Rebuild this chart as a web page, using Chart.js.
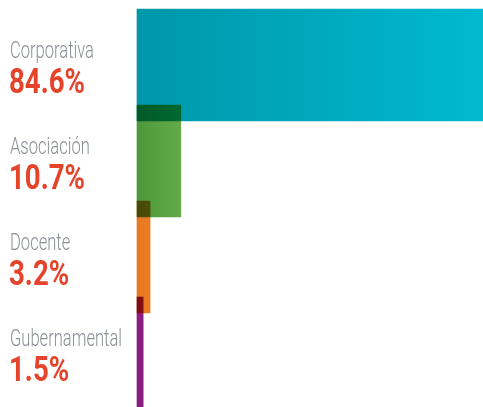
<!DOCTYPE html>
<html>
<head>
<meta charset="utf-8">
<script src="https://cdn.jsdelivr.net/npm/chart.js@4"></script>
<style>
    html, body { margin: 0; padding: 0; background: #fff; }
    #wrap { width: 483px; height: 407px; }
</style>
</head>
<body>
<div id="wrap"><canvas id="bar-chart"></canvas></div>
<script>
var categories = ['Corporativa', 'Asociación', 'Docente', 'Gubernamental'];
var shares = [84.6, 10.7, 3.2, 1.5];
var shareLabels = ['84.6%', '10.7%', '3.2%', '1.5%'];
// left / right colour of each bar's gradient
var colorsFrom = ['#0097a9', '#4c983a', '#e77a22', '#8b1d80'];
var colorsTo = ['#00b9d1', '#63ab48', '#e97d22', '#8b1d80'];

/*
*   bars overlap a little, the overlap darkens like ink
*/
var multiplyPlugin = {
    id: 'multiply',
    beforeDatasetsDraw: function(chart) {
        chart.ctx.save();
        chart.ctx.globalCompositeOperation = 'multiply';
    },
    afterDatasetsDraw: function(chart) {
        chart.ctx.restore();
    }
};

/*
*   category name + percentage on the left of each bar (squeezed to look condensed)
*/
var sideLabels = {
    id: 'sideLabels',
    afterDraw: function(chart) {
        var ctx = chart.ctx;
        var yScale = chart.scales.y;
        ctx.save();
        ctx.textAlign = 'left';
        ctx.textBaseline = 'alphabetic';
        for (var i = 0; i < categories.length; i++) {
            var cy = yScale.getPixelForValue(i);

            ctx.save();
            ctx.translate(10, cy - 7.5);
            ctx.scale(0.72, 1);
            ctx.font = '300 23px Roboto';
            ctx.fillStyle = '#8b9096';
            ctx.fillText(categories[i], 0, 0);
            ctx.restore();

            ctx.save();
            ctx.translate(9, cy + 28);
            ctx.scale(0.79, 1);
            ctx.font = 'bold 35px Roboto';
            ctx.fillStyle = '#e5442a';
            ctx.fillText(shareLabels[i], 0, 0);
            ctx.restore();
        }
        ctx.restore();
    }
};

function barGradient(context) {
    var chart = context.chart;
    var i = context.dataIndex;
    if (!chart.chartArea || i === undefined) {
        return colorsFrom[i || 0];
    }
    var x0 = chart.chartArea.left;
    var x1 = chart.scales.x.getPixelForValue(shares[i]);
    var g = chart.ctx.createLinearGradient(x0, 0, x1, 0);
    g.addColorStop(0, colorsFrom[i]);
    g.addColorStop(1, colorsTo[i]);
    return g;
}

var ctx = document.getElementById('bar-chart').getContext('2d');
var barChart = new Chart(ctx, {
    type: 'bar',
    data: {
        labels: categories,
        datasets: [{
            data: shares,
            backgroundColor: barGradient,
            borderWidth: 0,
            barThickness: 112,
            clip: false
        }]
    },
    options: {
        indexAxis: 'y',
        responsive: true,
        maintainAspectRatio: false,
        animation: false,
        layout: {
            padding: { left: 137, right: 0, top: 17, bottom: 6 }
        },
        plugins: {
            legend: { display: false },
            tooltip: { enabled: false }
        },
        scales: {
            x: { display: false, min: 0, max: 84.6 },
            y: { display: false, offset: true }
        }
    },
    plugins: [multiplyPlugin, sideLabels]
});
</script>
</body>
</html>
